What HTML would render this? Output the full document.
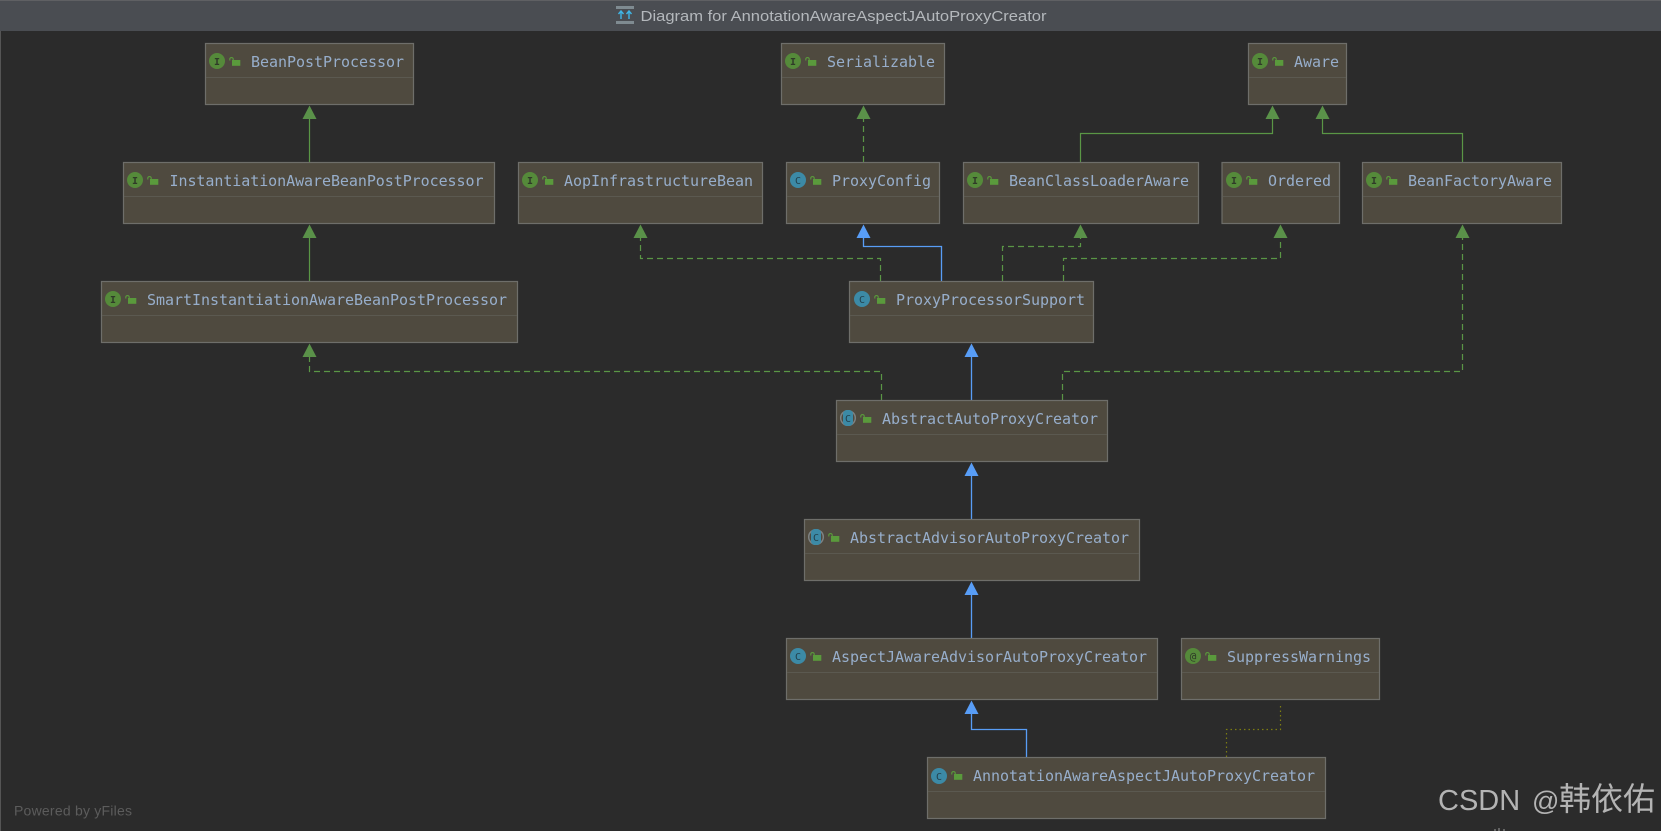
<!DOCTYPE html>
<html lang="en"><head><meta charset="utf-8"><title>Diagram for AnnotationAwareAspectJAutoProxyCreator</title>
<style>
html,body{margin:0;padding:0;background:#2b2b2b;width:1661px;height:831px;overflow:hidden}
svg{display:block}
.n{font:15px "DejaVu Sans Mono","Liberation Mono",monospace;fill:#97aecb}
.b{fill:#4f4a3f;stroke:#6e6e6a;stroke-width:1.2}
.d{stroke:#5b5950;stroke-width:1}
.ci{fill:#558a3a}.cc{fill:#3c8aa6}
.l{font:bold 10px "DejaVu Sans Mono",monospace;text-anchor:middle;fill:#2f3a28}
.lc{font:10px "DejaVu Sans Mono",monospace;text-anchor:middle;fill:#22404c}
.g{fill:none;stroke:#5a9645;stroke-width:1.2}
.gd{fill:none;stroke:#5a9645;stroke-width:1.2;stroke-dasharray:6 4}
.bl{fill:none;stroke:#589df6;stroke-width:1.3}
.ga{fill:#5a9149}.ba{fill:#589df6}
.lk{fill:#5a9a3c}.lks{fill:none;stroke:#5a9a3c;stroke-width:1.1}
.rg{fill:#4f4a3f;stroke:#7d8283;stroke-width:1.5}
</style></head><body>
<svg width="1661" height="831" viewBox="0 0 1661 831" xmlns="http://www.w3.org/2000/svg">
<defs>
<g id="lock"><rect x="3" y="3" width="8.300" height="5.800" class="lk"/><path d="M0.800 3.500V1.800a1.800 1.800 0 0 1 3.400 0V3.500" class="lks"/></g>
</defs>
<rect width="1661" height="831" fill="#2b2b2b"/>
<rect x="0" y="0" width="1" height="831" fill="#555"/>
<rect x="0" y="0" width="1661" height="31" fill="#4a4d52"/>
<rect x="0" y="0" width="1661" height="1" fill="#5f6063"/>
<rect x="616" y="6" width="18" height="3" fill="#7f8b91"/><rect x="616" y="21" width="18" height="3" fill="#7f8b91"/>
<path d="M621 19V12M618.500 14l2.500-3 2.500 3M629 19V12M626.500 14l2.500-3 2.500 3" fill="none" stroke="#3fb5e5" stroke-width="1.400"/>
<text x="640.500" y="21" font-family="Liberation Sans, sans-serif" font-size="15" fill="#b4b8bc" textLength="406" lengthAdjust="spacingAndGlyphs">Diagram for AnnotationAwareAspectJAutoProxyCreator</text>

<!-- connectors -->
<path class="g" d="M309.500 118V162M309.500 237V281M1080.500 162V133.500H1272.500V118M1462.500 162V133.500H1322.500V118"/>
<path class="gd" d="M863.500 162V118M880.500 281V258.500H640.500V237M1002.500 281V246.500H1080.500V237M1063.500 281V258.500H1280.500V237M881.500 400V371.500H309.500V356M1062.500 400V371.500H1462.500V237"/>
<path class="bl" d="M941.500 281V246.500H863.500V237M971.500 400V356M971.500 519V475M971.500 638V594M1026.500 757V729.500H971.500V713"/>
<path d="M1226.500 757V729.500H1280.500V703" fill="none" stroke="#7d7d12" stroke-width="1.200" stroke-dasharray="1.500 3"/>
<path class="ga" d="M309.500 105.500l-7 13.500h14zM309.500 224.500l-7 13.500h14zM863.500 105.500l-7 13.500h14zM1272.500 105.500l-7 13.500h14zM1322.500 105.500l-7 13.500h14zM640.500 224.500l-7 13.500h14zM1080.500 224.500l-7 13.500h14zM1280.500 224.500l-7 13.500h14zM1462.500 224.500l-7 13.500h14zM309.500 343.500l-7 13.500h14z"/>
<path class="ba" d="M863.500 224.500l-7 13.500h14zM971.500 343.500l-7 13.500h14zM971.500 462.500l-7 13.500h14zM971.500 581.500l-7 13.500h14zM971.500 700.500l-7 13.500h14z"/>

<!-- BeanPostProcessor -->
<rect class="b" x="205.500" y="43.500" width="208" height="61"/><path class="d" d="M206 77.500H413"/>
<circle class="ci" cx="217" cy="61" r="8"/><text class="l" x="217" y="65">I</text><use href="#lock" x="229" y="57"/>
<text class="n" x="251" y="67" textLength="153">BeanPostProcessor</text>
<!-- Serializable -->
<rect class="b" x="781.500" y="43.500" width="163" height="61"/><path class="d" d="M782 77.500H944"/>
<circle class="ci" cx="793" cy="61" r="8"/><text class="l" x="793" y="65">I</text><use href="#lock" x="805" y="57"/>
<text class="n" x="827" y="67" textLength="108">Serializable</text>
<!-- Aware -->
<rect class="b" x="1248.500" y="43.500" width="98" height="61"/><path class="d" d="M1249 77.500H1346"/>
<circle class="ci" cx="1260" cy="61" r="8"/><text class="l" x="1260" y="65">I</text><use href="#lock" x="1272" y="57"/>
<text class="n" x="1294" y="67" textLength="45">Aware</text>
<!-- Instantiation -->
<rect class="b" x="123.500" y="162.500" width="371" height="61"/><path class="d" d="M124 196.500H494"/>
<circle class="ci" cx="135" cy="180" r="8"/><text class="l" x="135" y="184">I</text><use href="#lock" x="147" y="176"/>
<text class="n" x="169.500" y="186" textLength="314">InstantiationAwareBeanPostProcessor</text>
<!-- Aop -->
<rect class="b" x="518.500" y="162.500" width="244" height="61"/><path class="d" d="M519 196.500H762"/>
<circle class="ci" cx="530" cy="180" r="8"/><text class="l" x="530" y="184">I</text><use href="#lock" x="542" y="176"/>
<text class="n" x="564" y="186" textLength="189">AopInfrastructureBean</text>
<!-- ProxyConfig -->
<rect class="b" x="786.500" y="162.500" width="153" height="61"/><path class="d" d="M787 196.500H939"/>
<circle class="cc" cx="798" cy="180" r="8"/><text class="lc" x="798" y="184">C</text><use href="#lock" x="810" y="176"/>
<text class="n" x="832" y="186" textLength="99">ProxyConfig</text>
<!-- BeanClassLoaderAware -->
<rect class="b" x="963.500" y="162.500" width="235" height="61"/><path class="d" d="M964 196.500H1198"/>
<circle class="ci" cx="975" cy="180" r="8"/><text class="l" x="975" y="184">I</text><use href="#lock" x="987" y="176"/>
<text class="n" x="1009" y="186" textLength="180">BeanClassLoaderAware</text>
<!-- Ordered -->
<rect class="b" x="1222" y="162.500" width="117.500" height="61"/><path class="d" d="M1223 196.500H1339"/>
<circle class="ci" cx="1234" cy="180" r="8"/><text class="l" x="1234" y="184">I</text><use href="#lock" x="1246" y="176"/>
<text class="n" x="1268" y="186" textLength="63">Ordered</text>
<!-- BeanFactoryAware -->
<rect class="b" x="1362.500" y="162.500" width="199" height="61"/><path class="d" d="M1363 196.500H1561"/>
<circle class="ci" cx="1374" cy="180" r="8"/><text class="l" x="1374" y="184">I</text><use href="#lock" x="1386" y="176"/>
<text class="n" x="1408" y="186" textLength="144">BeanFactoryAware</text>
<!-- Smart -->
<rect class="b" x="101.500" y="281.500" width="416" height="61"/><path class="d" d="M102 315.500H517"/>
<circle class="ci" cx="113" cy="299" r="8"/><text class="l" x="113" y="303">I</text><use href="#lock" x="125" y="295"/>
<text class="n" x="147" y="305" textLength="360">SmartInstantiationAwareBeanPostProcessor</text>
<!-- ProxyProcessorSupport -->
<rect class="b" x="849.500" y="281.500" width="244" height="61"/><path class="d" d="M850 315.500H1093"/>
<circle class="cc" cx="862" cy="299" r="8"/><text class="lc" x="862" y="303">C</text><use href="#lock" x="874" y="295"/>
<text class="n" x="896" y="305" textLength="189">ProxyProcessorSupport</text>
<!-- AbstractAutoProxyCreator -->
<rect class="b" x="836.500" y="400.500" width="271" height="61"/><path class="d" d="M837 434.500H1107"/>
<circle class="rg" cx="848" cy="418" r="7.300"/><rect x="843" y="410" width="10" height="16" rx="4" class="cc"/><text class="lc" x="848" y="422">C</text><use href="#lock" x="860" y="414"/>
<text class="n" x="882" y="424" textLength="216">AbstractAutoProxyCreator</text>
<!-- AbstractAdvisorAutoProxyCreator -->
<rect class="b" x="804.500" y="519.500" width="335" height="61"/><path class="d" d="M805 553.500H1139"/>
<circle class="rg" cx="816" cy="537" r="7.300"/><rect x="811" y="529" width="10" height="16" rx="4" class="cc"/><text class="lc" x="816" y="541">C</text><use href="#lock" x="828" y="533"/>
<text class="n" x="850" y="543" textLength="279">AbstractAdvisorAutoProxyCreator</text>
<!-- AspectJAwareAdvisorAutoProxyCreator -->
<rect class="b" x="786.500" y="638.500" width="371" height="61"/><path class="d" d="M787 672.500H1157"/>
<circle class="cc" cx="798" cy="656" r="8"/><text class="lc" x="798" y="660">C</text><use href="#lock" x="810" y="652"/>
<text class="n" x="832" y="662" textLength="315">AspectJAwareAdvisorAutoProxyCreator</text>
<!-- SuppressWarnings -->
<rect class="b" x="1181.500" y="638.500" width="198" height="61"/><path class="d" d="M1182 672.500H1379"/>
<circle class="ci" cx="1193" cy="656" r="8"/><text class="lc" x="1193" y="660" style="fill:#2f3a28;font-size:11px">@</text><use href="#lock" x="1205" y="652"/>
<text class="n" x="1227" y="662" textLength="144">SuppressWarnings</text>
<!-- AnnotationAwareAspectJAutoProxyCreator -->
<rect class="b" x="927.500" y="757.500" width="398" height="61"/><path class="d" d="M928 791.500H1325"/>
<circle class="cc" cx="939" cy="776" r="8"/><text class="lc" x="939" y="780">C</text><use href="#lock" x="951" y="771"/>
<text class="n" x="973" y="781" textLength="342">AnnotationAwareAspectJAutoProxyCreator</text>

<text x="14" y="815.500" font-family="Liberation Sans, sans-serif" font-size="14" fill="#5c5c5c" textLength="118">Powered by yFiles</text>
<text font-family="'Liberation Sans','Noto Sans CJK SC',sans-serif" fill="#b4b4b4"><tspan x="1438" y="810" font-size="29">CSDN</tspan><tspan x="1532" y="810" font-size="27">@</tspan><tspan x="1559" y="810" font-size="32">韩依佑</tspan></text>
<path d="M1495 829v2M1499 828v3M1504 829v2" stroke="#777" stroke-width="1.500"/>
</svg>
</body></html>
